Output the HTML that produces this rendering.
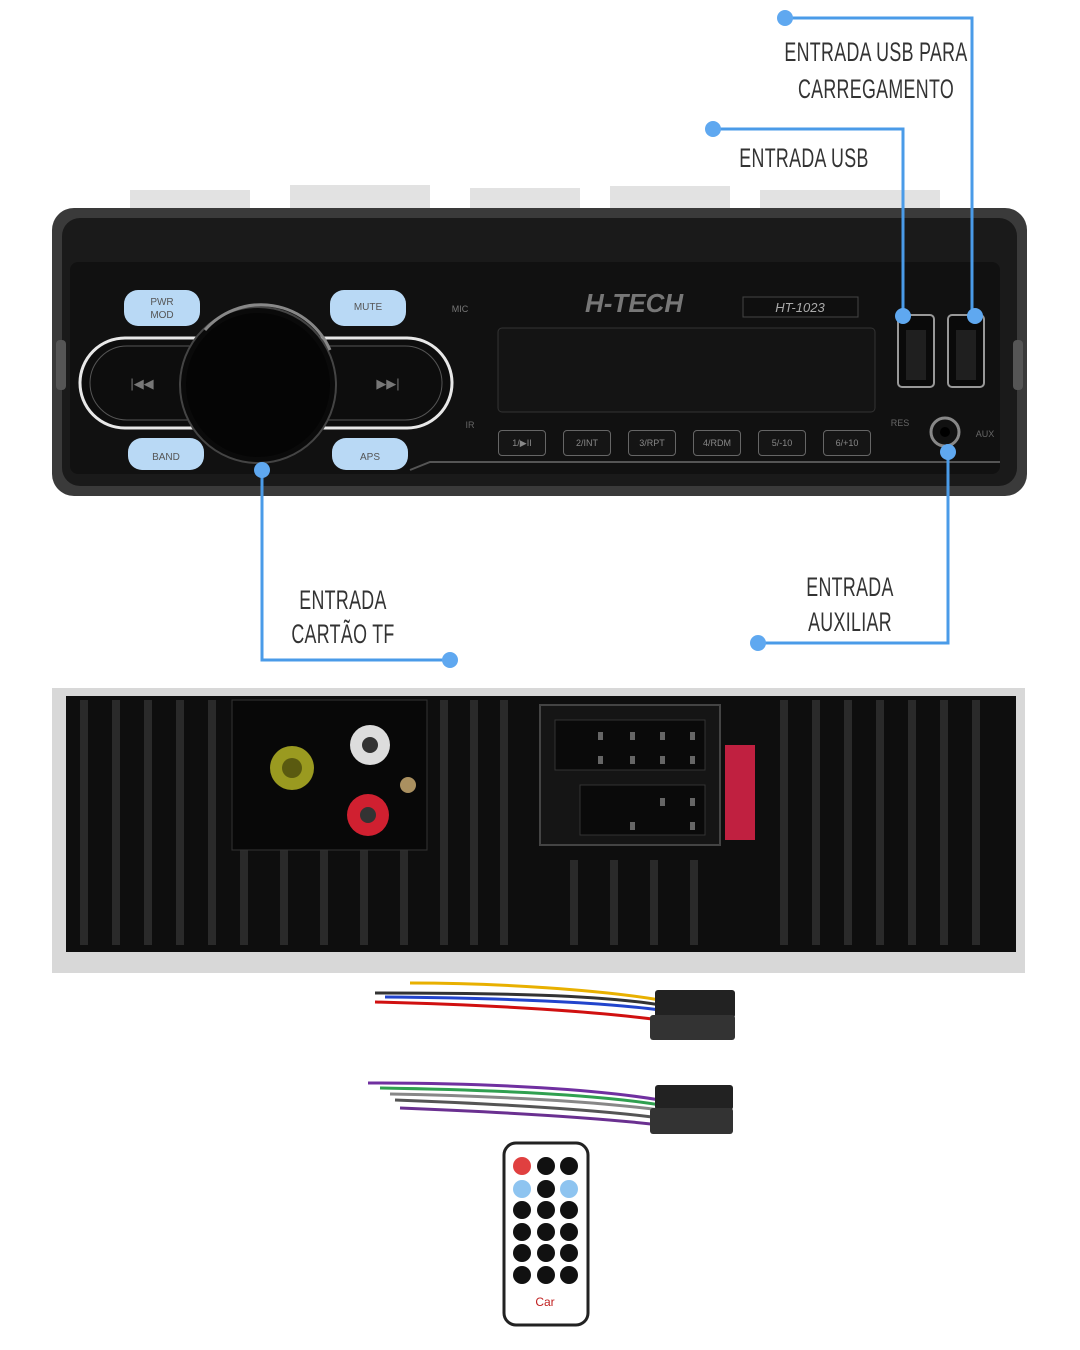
<!DOCTYPE html>
<html><head><meta charset="utf-8">
<style>
html,body{margin:0;padding:0;background:#fff;}
body{width:1080px;height:1350px;position:relative;overflow:hidden;font-family:"Liberation Sans",sans-serif;}
.a{position:absolute;}
.lbl{position:absolute;font-family:"Liberation Sans",sans-serif;font-size:27px;color:#333;transform:scaleX(0.66);transform-origin:center top;white-space:nowrap;text-align:center;letter-spacing:0.5px;}
.btn{position:absolute;background:#b9d9f5;border-radius:14px;font-size:10px;color:#555;text-align:center;}
.pb{position:absolute;width:46px;height:24px;border:1px solid #666;border-radius:4px;background:#151515;color:#888;font-size:9px;text-align:center;line-height:24px;}
</style></head><body>
<svg class="a" style="left:0;top:0" width="1080" height="1350">
  <!-- Front radio -->
  <g fill="#e2e2e2">
    <rect x="130" y="190" width="120" height="22"/><rect x="290" y="185" width="140" height="27"/>
    <rect x="470" y="188" width="110" height="24"/><rect x="610" y="186" width="120" height="26"/>
    <rect x="760" y="190" width="180" height="22"/>
  </g>
  <rect x="52" y="208" width="975" height="288" rx="22" fill="#3a3a3a"/>
  <rect x="62" y="218" width="955" height="268" rx="18" fill="#1a1a1a"/>
  <rect x="70" y="262" width="930" height="212" rx="8" fill="#111"/>
  <path d="M410 470 L430 462 L1000 462" stroke="#555" stroke-width="2" fill="none"/>
  <rect x="80" y="338" width="372" height="90" rx="45" fill="#0d0d0d" stroke="#e8e8e8" stroke-width="3"/>
  <rect x="90" y="346" width="352" height="74" rx="37" fill="none" stroke="#555" stroke-width="1"/>
  <text x="142" y="388" fill="#777" font-size="13" text-anchor="middle">|◀◀</text>
  <text x="388" y="388" fill="#777" font-size="13" text-anchor="middle">▶▶|</text>
  <circle cx="258" cy="385" r="78" fill="#0a0a0a" stroke="#444" stroke-width="2"/>
  <circle cx="258" cy="385" r="72" fill="#050505"/>
  <path d="M205 330 A75 75 0 0 1 330 350" stroke="#888" stroke-width="3" fill="none"/>
  <rect x="498" y="328" width="377" height="84" rx="4" fill="#141414" stroke="#333"/>
  <text x="585" y="312" fill="#777" font-size="26" font-weight="bold" font-style="italic">H-TECH</text>
  <rect x="743" y="297" width="115" height="20" fill="#0f0f0f" stroke="#444"/>
  <text x="800" y="312" fill="#aaa" font-size="13" font-style="italic" text-anchor="middle">HT-1023</text>
  <text x="460" y="312" fill="#777" font-size="9" text-anchor="middle">MIC</text>
  <text x="470" y="428" fill="#666" font-size="9" text-anchor="middle">IR</text>
  <rect x="898" y="315" width="36" height="72" rx="4" fill="#0a0a0a" stroke="#999" stroke-width="2"/>
  <rect x="948" y="315" width="36" height="72" rx="4" fill="#0a0a0a" stroke="#999" stroke-width="2"/>
  <rect x="906" y="330" width="20" height="50" fill="#1f1f1f"/>
  <rect x="956" y="330" width="20" height="50" fill="#1f1f1f"/>
  <circle cx="945" cy="432" r="14" fill="#111" stroke="#888" stroke-width="3"/>
  <circle cx="945" cy="432" r="5" fill="#000"/>
  <text x="900" y="426" fill="#666" font-size="9" text-anchor="middle">RES</text>
  <text x="985" y="437" fill="#666" font-size="9" text-anchor="middle">AUX</text>
  <rect x="56" y="340" width="10" height="50" rx="4" fill="#555"/>
  <rect x="1013" y="340" width="10" height="50" rx="4" fill="#555"/>
  <!-- Back panel -->
  <rect x="52" y="688" width="973" height="285" fill="#d8d8d8"/>
  <rect x="66" y="696" width="950" height="256" fill="#0e0e0e"/>
  <g fill="#2a2a2a">
    <rect x="80" y="700" width="8" height="245"/><rect x="112" y="700" width="8" height="245"/><rect x="144" y="700" width="8" height="245"/>
    <rect x="176" y="700" width="8" height="245"/><rect x="208" y="700" width="8" height="245"/>
    <rect x="440" y="700" width="8" height="245"/><rect x="470" y="700" width="8" height="245"/><rect x="500" y="700" width="8" height="245"/>
    <rect x="780" y="700" width="8" height="245"/><rect x="812" y="700" width="8" height="245"/><rect x="844" y="700" width="8" height="245"/>
    <rect x="876" y="700" width="8" height="245"/><rect x="908" y="700" width="8" height="245"/><rect x="940" y="700" width="8" height="245"/><rect x="972" y="700" width="8" height="245"/>
    <rect x="240" y="850" width="8" height="95"/><rect x="280" y="850" width="8" height="95"/><rect x="320" y="850" width="8" height="95"/><rect x="360" y="850" width="8" height="95"/><rect x="400" y="850" width="8" height="95"/>
    <rect x="570" y="860" width="8" height="85"/><rect x="610" y="860" width="8" height="85"/><rect x="650" y="860" width="8" height="85"/><rect x="690" y="860" width="8" height="85"/>
  </g>
  <rect x="232" y="700" width="195" height="150" fill="#080808" stroke="#333"/>
  <circle cx="292" cy="768" r="22" fill="#9a9a20"/><circle cx="292" cy="768" r="10" fill="#5a5a10"/>
  <circle cx="370" cy="745" r="20" fill="#ddd"/><circle cx="370" cy="745" r="8" fill="#333"/>
  <circle cx="368" cy="815" r="21" fill="#d02030"/><circle cx="368" cy="815" r="8" fill="#333"/>
  <circle cx="408" cy="785" r="8" fill="#aa9060"/>
  <rect x="540" y="705" width="180" height="140" fill="#151515" stroke="#444" stroke-width="2"/>
  <rect x="555" y="720" width="150" height="50" fill="#0a0a0a" stroke="#333"/>
  <rect x="580" y="785" width="125" height="50" fill="#0a0a0a" stroke="#333"/>
  <g fill="#666"><rect x="598" y="732" width="5" height="8"/><rect x="630" y="732" width="5" height="8"/><rect x="660" y="732" width="5" height="8"/><rect x="690" y="732" width="5" height="8"/>
  <rect x="598" y="756" width="5" height="8"/><rect x="630" y="756" width="5" height="8"/><rect x="660" y="756" width="5" height="8"/><rect x="690" y="756" width="5" height="8"/>
  <rect x="660" y="798" width="5" height="8"/><rect x="690" y="798" width="5" height="8"/><rect x="630" y="822" width="5" height="8"/><rect x="690" y="822" width="5" height="8"/></g>
  <rect x="725" y="745" width="30" height="95" fill="#c02040"/>
  <!-- wires 1 -->
  <path d="M410 983 C500 983 600 990 660 1000" stroke="#e8b000" stroke-width="3" fill="none"/>
  <path d="M375 993 C500 993 600 995 660 1005" stroke="#333" stroke-width="3" fill="none"/>
  <path d="M385 997 C500 998 600 1002 660 1010" stroke="#2244cc" stroke-width="3" fill="none"/>
  <path d="M375 1002 C500 1005 600 1012 660 1020" stroke="#d01010" stroke-width="3" fill="none"/>
  <rect x="655" y="990" width="80" height="28" rx="3" fill="#222"/>
  <rect x="650" y="1015" width="85" height="25" rx="3" fill="#333"/>
  <!-- wires 2 -->
  <path d="M368 1083 C500 1083 600 1090 660 1100" stroke="#7030a0" stroke-width="3" fill="none"/>
  <path d="M380 1088 C500 1090 600 1095 660 1105" stroke="#30a050" stroke-width="3" fill="none"/>
  <path d="M390 1094 C500 1096 600 1102 660 1110" stroke="#888" stroke-width="3" fill="none"/>
  <path d="M395 1100 C500 1104 600 1110 660 1118" stroke="#555" stroke-width="3" fill="none"/>
  <path d="M400 1108 C500 1112 600 1118 660 1125" stroke="#6a3090" stroke-width="3" fill="none"/>
  <rect x="655" y="1085" width="78" height="25" rx="3" fill="#222"/>
  <rect x="650" y="1108" width="83" height="26" rx="3" fill="#333"/>
  <!-- remote -->
  <rect x="504" y="1143" width="84" height="182" rx="12" fill="#fff" stroke="#222" stroke-width="3"/>
  <g>
    <circle cx="522" cy="1166" r="9" fill="#e04040"/><circle cx="546" cy="1166" r="9" fill="#111"/><circle cx="569" cy="1166" r="9" fill="#111"/>
    <circle cx="522" cy="1189" r="9" fill="#8ec4f0"/><circle cx="546" cy="1189" r="9" fill="#111"/><circle cx="569" cy="1189" r="9" fill="#8ec4f0"/>
    <circle cx="522" cy="1210" r="9" fill="#111"/><circle cx="546" cy="1210" r="9" fill="#111"/><circle cx="569" cy="1210" r="9" fill="#111"/>
    <circle cx="522" cy="1232" r="9" fill="#111"/><circle cx="546" cy="1232" r="9" fill="#111"/><circle cx="569" cy="1232" r="9" fill="#111"/>
    <circle cx="522" cy="1253" r="9" fill="#111"/><circle cx="546" cy="1253" r="9" fill="#111"/><circle cx="569" cy="1253" r="9" fill="#111"/>
    <circle cx="522" cy="1275" r="9" fill="#111"/><circle cx="546" cy="1275" r="9" fill="#111"/><circle cx="569" cy="1275" r="9" fill="#111"/>
  </g>
  <text x="545" y="1306" fill="#c02020" font-size="12" text-anchor="middle">Car</text>
  <!-- callouts -->
  <g stroke="#4a9be8" stroke-width="3" fill="none">
    <polyline points="785,18 972,18 972,316"/>
    <polyline points="713,129 903,129 903,316"/>
    <polyline points="262,470 262,660 450,660"/>
    <polyline points="948,452 948,643 758,643"/>
  </g>
  <g fill="#5fa8f0">
    <circle cx="785" cy="18" r="8"/><circle cx="975" cy="316" r="8"/>
    <circle cx="713" cy="129" r="8"/><circle cx="903" cy="316" r="8"/>
    <circle cx="262" cy="470" r="8"/><circle cx="450" cy="660" r="8"/>
    <circle cx="948" cy="452" r="8"/><circle cx="758" cy="643" r="8"/>
  </g>
</svg>
<div class="btn" style="left:124px;top:290px;width:76px;height:36px;line-height:13px;padding-top:6px;box-sizing:border-box">PWR<br>MOD</div>
<div class="btn" style="left:330px;top:290px;width:76px;height:36px;line-height:36px">MUTE</div>
<div class="btn" style="left:128px;top:438px;width:76px;height:32px;line-height:40px">BAND</div>
<div class="btn" style="left:332px;top:438px;width:76px;height:32px;line-height:40px">APS</div>
<div class="pb" style="left:498px;top:430px">1/▶II</div>
<div class="pb" style="left:563px;top:430px">2/INT</div>
<div class="pb" style="left:628px;top:430px">3/RPT</div>
<div class="pb" style="left:693px;top:430px">4/RDM</div>
<div class="pb" style="left:758px;top:430px">5/-10</div>
<div class="pb" style="left:823px;top:430px">6/+10</div>
<div class="lbl" style="left:726px;top:34px;width:300px;line-height:37px">ENTRADA USB PARA<br>CARREGAMENTO</div>
<div class="lbl" style="left:684px;top:143px;width:240px">ENTRADA USB</div>
<div class="lbl" style="left:223px;top:583px;width:240px;line-height:34px">ENTRADA<br>CARTÃO TF</div>
<div class="lbl" style="left:730px;top:570px;width:240px;line-height:35px">ENTRADA<br>AUXILIAR</div>
</body></html>
